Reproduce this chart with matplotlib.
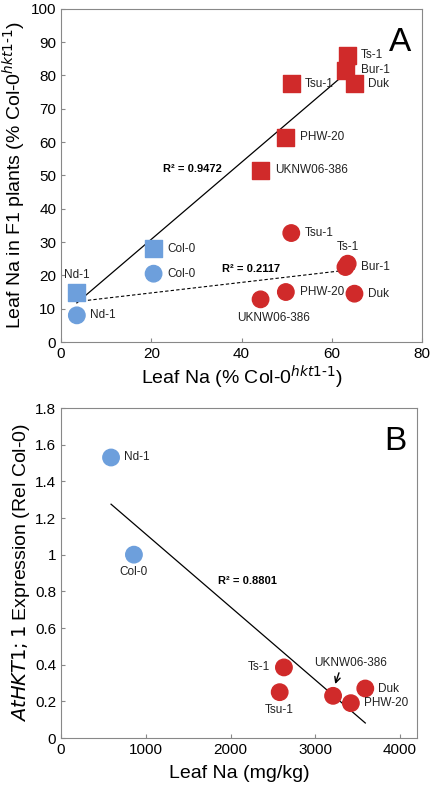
import numpy as np
from matplotlib import pyplot as plt

plt.rcParams['font.family'] = ['Liberation Sans', 'DejaVu Sans']

BLUE = '#6d9fdc'
RED = '#d02a2a'

# panel A
names_a = ['Nd-1', 'Col-0', 'UKNW06-386', 'PHW-20', 'Tsu-1', 'Ts-1', 'Bur-1', 'Duk']
leaf_na_a = [3.5, 20.5, 44.2, 49.8, 51.0, 63.5, 63.0, 65.0]
f1_sq = [15.0, 28.0, 51.5, 61.5, 77.5, 86.0, 81.5, 77.5]
f1_ci = [8.0, 20.5, 12.8, 15.0, 32.7, 23.5, 22.5, 14.5]
colors_a = [BLUE, BLUE] + [RED] * 6

# panel B
names_b = ['Nd-1', 'Col-0', 'Ts-1', 'Tsu-1', 'UKNW06-386', 'PHW-20', 'Duk']
leaf_na_b = [590, 860, 2630, 2580, 3210, 3420, 3590]
expr_b = [1.53, 1.0, 0.385, 0.25, 0.23, 0.19, 0.27]
colors_b = [BLUE, BLUE] + [RED] * 5

fig = plt.figure(figsize=(4.33, 8), dpi=100)
axA = fig.add_axes([0.141, 0.5725, 0.834, 0.4165])
axB = fig.add_axes([0.141, 0.0775, 0.822, 0.4125])

for ax in (axA, axB):
    for s in ax.spines.values():
        s.set_color('#888888')
    ax.tick_params(labelsize=11, color='#888888', direction='in', length=3)

# A
axA.scatter(leaf_na_a, f1_sq, marker='s', s=150, c=colors_a, zorder=3)
axA.scatter(leaf_na_a, f1_ci, marker='o', s=140, c=colors_a, zorder=3)
xs = np.array([min(leaf_na_a), max(leaf_na_a)])
p1 = np.polyfit(leaf_na_a, f1_sq, 1)
p2 = np.polyfit(leaf_na_a, f1_ci, 1)
axA.plot(xs, np.polyval(p1, xs), color='black', lw=0.9, zorder=2)
axA.plot(xs, np.polyval(p2, xs), color='black', lw=0.8, ls='--', dashes=(3, 2), zorder=2)

fs = 8.5
sq_off = {'Nd-1': (3.5, 20, 'center'), 'Col-0': (23.5, 28, 'left'), 'UKNW06-386': (47.5, 51.5, 'left'),
          'PHW-20': (53, 61.5, 'left'), 'Tsu-1': (54, 77.5, 'left'), 'Ts-1': (66.5, 86, 'left'),
          'Bur-1': (66.5, 81.5, 'left'), 'Duk': (68, 77.5, 'left')}
ci_off = {'Nd-1': (6.5, 8, 'left'), 'Col-0': (23.5, 20.5, 'left'), 'UKNW06-386': (47, 7.2, 'center'),
          'PHW-20': (53, 15, 'left'), 'Tsu-1': (54, 32.7, 'left'), 'Ts-1': (63.5, 28.5, 'center'),
          'Bur-1': (66.5, 22.5, 'left'), 'Duk': (68, 14.5, 'left')}
for n in names_a:
    x, y, ha = sq_off[n]
    axA.text(x, y, n, fontsize=fs, ha=ha, va='center', color='#222222')
    x, y, ha = ci_off[n]
    axA.text(x, y, n, fontsize=fs, ha=ha, va='center', color='#222222')
axA.text(29, 52, 'R² = 0.9472', fontsize=8, fontweight='bold', ha='center', va='center')
axA.text(42, 22, 'R² = 0.2117', fontsize=8, fontweight='bold', ha='center', va='center')
axA.text(0.94, 0.9, 'A', transform=axA.transAxes, fontsize=24, ha='center', va='center')
axA.set_xlim(0, 80)
axA.set_ylim(0, 100)
axA.set_xticks(np.arange(0, 81, 20))
axA.set_yticks(np.arange(0, 101, 10))
axA.set_xlabel('Leaf Na (% Col-0$^{hkt1‐1}$)', fontsize=14, labelpad=2)
axA.set_ylabel('Leaf Na in F1 plants (% Col-0$^{hkt1‐1}$)', fontsize=14, labelpad=2)

# B
axB.scatter(leaf_na_b, expr_b, marker='o', s=140, c=colors_b, zorder=3)
pb = np.polyfit(leaf_na_b, expr_b, 1)
xb = np.array([min(leaf_na_b), max(leaf_na_b)])
axB.plot(xb, np.polyval(pb, xb), color='black', lw=0.9, zorder=2)
lab_b = {'Nd-1': (740, 1.53, 'left'), 'Col-0': (860, 0.905, 'center'), 'Ts-1': (2470, 0.385, 'right'),
         'Tsu-1': (2580, 0.155, 'center'), 'UKNW06-386': (3420, 0.41, 'center'),
         'PHW-20': (3570, 0.19, 'left'), 'Duk': (3740, 0.27, 'left')}
for n in names_b:
    x, y, ha = lab_b[n]
    axB.text(x, y, n, fontsize=fs, ha=ha, va='center', color='#222222')
axB.annotate('', xy=(3225, 0.28), xytext=(3290, 0.37),
             arrowprops=dict(arrowstyle='->', lw=1, color='black'))
axB.text(2200, 0.855, 'R² = 0.8801', fontsize=8, fontweight='bold', ha='center', va='center')
axB.text(0.94, 0.9, 'B', transform=axB.transAxes, fontsize=24, ha='center', va='center')
axB.set_xlim(0, 4200)
axB.set_ylim(0, 1.8)
axB.set_xticks(np.arange(0, 4001, 1000))
axB.set_yticks(np.arange(0, 1.81, 0.2))
axB.set_yticklabels(['0', '0.2', '0.4', '0.6', '0.8', '1', '1.2', '1.4', '1.6', '1.8'])
axB.set_xlabel('Leaf Na (mg/kg)', fontsize=14, labelpad=6)
axB.set_ylabel('$\\mathit{AtHKT1;1}$ Expression (Rel Col-0)', fontsize=14, labelpad=2)

fig.savefig('out.png', dpi=100)
